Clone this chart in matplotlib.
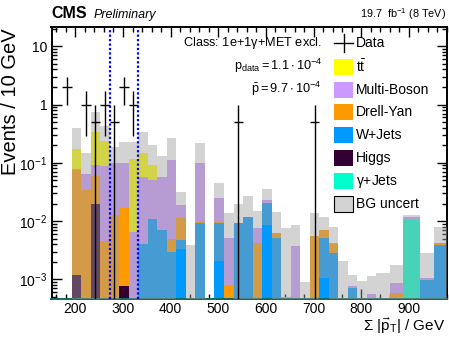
import numpy as np
import matplotlib
matplotlib.use("Agg")
import matplotlib.pyplot as plt
from matplotlib.patches import Rectangle
from matplotlib.lines import Line2D
from matplotlib.ticker import LogLocator, MultipleLocator, FuncFormatter, NullFormatter

plt.rcParams['font.family'] = ['Liberation Sans', 'DejaVu Sans']
plt.rcParams['mathtext.fontset'] = 'custom'
plt.rcParams['mathtext.rm'] = 'Liberation Sans'
plt.rcParams['mathtext.it'] = 'Liberation Sans:italic'
plt.rcParams['mathtext.bf'] = 'Liberation Sans:bold'

# ---------------- data ----------------
bin_edges = [172, 192, 212, 232, 252, 272, 292, 312, 332, 352, 372, 392, 412,
             432, 452, 472, 492, 512, 532, 552, 572, 592, 612, 632, 652, 672,
             692, 712, 732, 752, 772, 792, 812, 832, 860, 888, 924, 952, 990]

gjets = [0, 0, 0, 0, 0, 0, 0, 0, 0, 0, 0, 0, 0, 0, 0, 0, 0, 0, 0, 0, 0, 0, 0,
         0, 0, 0, 0, 0, 0, 0, 0, 0, 0, 0, 0, 0.0104, 0, 0]
higgs = [0, 0.0012, 0, 0.0195, 0, 0, 0.00076, 0, 0, 0, 0, 0, 0, 0, 0, 0, 0, 0,
         0, 0, 0, 0, 0, 0, 0, 0, 0, 0, 0, 0, 0, 0, 0, 0, 0, 0, 0, 0]
wjets = [0, 0, 0, 0, 0, 0, 0, 0, 0.004, 0.011, 0.007, 0.003, 0.0047, 0.0003,
         0.0092, 0, 0.0092, 0, 0.0092, 0.0116, 0, 0.0203, 0.0052, 0, 0, 0, 0,
         0.0052, 0.0028, 0, 0.0007, 0, 0, 0, 0, 0, 0.00098, 0.0039]
drellyan = [0, 0.074, 0.034, 0.04, 0.0045, 0.0126, 0.0158, 0, 0, 0, 0, 0.002,
            0.0065, 0, 0.0006, 0, 0.0006, 0.0008, 0, 0, 0.0042, 0, 0.001, 0, 0,
            0, 0.0056, 0.0019, 0.0012, 0, 0, 0, 0, 0, 0.00058, 0, 0, 0.0003]
multiboson = [0, 0.003, 0.030, 0.032, 0.085, 0.087, 0.083, 0.0066, 0.054, 0.04,
              0.05, 0.105, 0.0076, 0, 0.088, 0, 0.0147, 0.0043, 0, 0, 0.0033,
              0.0027, 0, 0.0005, 0.0037, 0.0002, 0, 0, 0.0002, 0, 0.00007, 0,
              0.00056, 0, 0.0003, 0.0015, 0.00007, 0]
ttbar = [0, 0.092, 0, 0.24, 0.15, 0, 0, 0.11, 0.09, 0.04, 0, 0, 0, 0, 0, 0,
         0, 0, 0, 0, 0, 0, 0, 0, 0, 0, 0, 0, 0, 0, 0, 0, 0, 0, 0, 0, 0, 0]
unc_low = [0, 0, 0, 0, 0, 0, 0.017, 0, 0, 0, 0, 0, 0.0033, 0, 0, 0, 0.0021,
           0.0008, 0, 0, 0, 0.0086, 0, 0, 0, 0, 0, 0.00105, 0, 0, 0, 0, 0, 0,
           0, 0, 0, 0]
unc_high = [0, 0.39, 0.15, 0.75, 0.42, 0.19, 0.23, 0.23, 0.34, 0.2, 0.13, 0.27,
            0.032, 0.0039, 0.216, 0, 0.0457, 0.0137, 0.0197, 0.027, 0.0151,
            0.035, 0.0145, 0.0076, 0.0086, 0.0009, 0.0137, 0.0119, 0.0079,
            0.0021, 0.0012, 0.00095, 0.00115, 0.0013, 0.0018, 0.0125, 0.0028,
            0.008]

data_x = [182, 222, 242, 262, 282, 302, 322, 542, 702]
data_y = [2, 1, 0.5, 1, 0.5, 2, 1, 0.5, 0.5]
data_err = [1.0, 0.71, 0.5, 0.71, 0.5, 1.0, 0.71, 0.5, 0.5]
data_halfwidth = [10, 10, 10, 10, 10, 10, 10, 10, 10]
roi_lines = [272, 332]

components = [
    ("ttbar", ttbar, "#ffff00", r"t$\mathregular{\bar{t}}$"),
    ("multiboson", multiboson, "#cc99ff", "Multi-Boson"),
    ("drellyan", drellyan, "#ff9900", "Drell-Yan"),
    ("wjets", wjets, "#0099ff", "W+Jets"),
    ("higgs", higgs, "#330033", "Higgs"),
    ("gjets", gjets, "#00ffcc", r"$\mathregular{\gamma}$+Jets"),
]
band_color = (0.62, 0.62, 0.62, 0.45)

# ---------------- figure ----------------
W, H = 449, 338
fig = plt.figure(figsize=(W / 100, H / 100), dpi=100)
ax = fig.add_axes([51.5 / W, (H - 299.3) / H, 395.5 / W, 272.8 / H])
ax.set_yscale('log')
ax.set_xlim(150, 980)
ax.set_ylim(4.56e-4, 21.8)

edges = np.array(bin_edges, dtype=float)
cum = np.zeros(len(edges) - 1)
for name, vals, color, label in components[::-1]:
    top = cum + np.array(vals, dtype=float)
    ax.stairs(top, edges, baseline=cum.copy(), fill=True, facecolor=color,
              edgecolor='none', lw=0, zorder=2)
    cum = top

# uncertainty band
ax.stairs(np.array(unc_high), edges, baseline=np.array(unc_low),
          fill=True, facecolor=band_color, edgecolor='none', lw=0, zorder=3)

# data
yerr = np.array(data_err)
ax.errorbar(data_x, data_y, xerr=data_halfwidth, yerr=[yerr, yerr],
            fmt='none', ecolor='black', elinewidth=1.0, capsize=0, zorder=5)

for xl in roi_lines:
    ax.axvline(xl, color='#0000ff', lw=1.6, ls=(0, (1, 1)), zorder=6)

# axes styling
ax.xaxis.set_major_locator(MultipleLocator(100))
ax.xaxis.set_minor_locator(MultipleLocator(20))
ax.yaxis.set_major_locator(LogLocator(base=10, numticks=10))
ax.yaxis.set_minor_locator(LogLocator(base=10, subs=np.arange(2, 10), numticks=30))
ax.yaxis.set_minor_formatter(NullFormatter())


def yfmt(v, pos):
    e = int(round(np.log10(v)))
    if e == 0:
        return '1'
    if e == 1:
        return '10'
    return r'$\mathregular{10^{%d}}$' % e


ax.yaxis.set_major_formatter(FuncFormatter(yfmt))
ax.tick_params(which='both', direction='in', top=True, right=True,
               labelsize=10, width=1.0, color='black')
ax.tick_params(which='major', length=7)
ax.tick_params(axis='x', which='major', pad=2.0)
ax.tick_params(axis='y', which='major', pad=3.0)
ax.tick_params(which='minor', length=3.5)
for s in ax.spines.values():
    s.set_linewidth(1.4)
ax.spines['bottom'].set_color('#0e6b5c')

# axis titles (ROOT style: aligned to the axis end)
fig.text(10.5 / W, 1 - 28 / H, 'Events / 10 GeV', fontsize=14.5, rotation=90,
         rotation_mode='anchor', ha='right', va='center')
fig.text(445 / W, 1 - 331 / H, r'$\mathregular{\Sigma\ |\vec{p}_{T}|}$ / GeV',
         fontsize=11, ha='right', va='baseline')

# header
fig.text(51.5 / W, 1 - 18 / H, 'CMS', weight='bold', fontsize=11.5, va='baseline')
fig.text(94 / W, 1 - 18 / H, 'Preliminary', style='italic', fontsize=9, va='baseline')
fig.text(446 / W, 1 - 18 / H, r'19.7  fb$^{\mathregular{-1}}$ (8 TeV)', fontsize=7.8,
         ha='right', va='baseline')

# class info
ax.text(0.684, 0.9285, r'Class: 1e+1$\mathregular{\gamma}$+MET excl.', transform=ax.transAxes,
        ha='right', va='baseline', fontsize=9.2)
ax.text(0.684, 0.84, r'$\mathregular{p_{data} = 1.1\cdot10^{-4}}$', transform=ax.transAxes,
        ha='right', va='baseline', fontsize=9.2)
ax.text(0.684, 0.758, r'$\mathregular{\bar{p} = 9.7\cdot10^{-4}}$', transform=ax.transAxes,
        ha='right', va='baseline', fontsize=9.2)


# legend (manual)
def ax_y(py):
    return (299.3 - py) / 272.8


def ax_x(px):
    return (px - 51.5) / 395.5


lx0 = ax_x(334.3)
lw_ = 18.4 / 395.5
lh_ = 16 / 272.8
tx = ax_x(355.5)
ax.add_line(Line2D([ax_x(334.3), ax_x(352.7)], [ax_y(42.7)] * 2, transform=ax.transAxes,
                   color='black', lw=1.0, zorder=7))
ax.add_line(Line2D([ax_x(343.5)] * 2, [ax_y(34), ax_y(51.5)], transform=ax.transAxes,
                   color='black', lw=1.0, zorder=7))
ax.text(tx, ax_y(42.7), 'Data', transform=ax.transAxes, va='center', fontsize=10, zorder=7)
rows = [66.7 + 22.9 * i for i in range(7)]
for (name, vals, color, label), ry in zip(components, rows):
    ax.add_patch(Rectangle((lx0, ax_y(ry) - lh_ / 2), lw_, lh_, transform=ax.transAxes,
                           facecolor=color, edgecolor='none', zorder=7))
    ax.text(tx, ax_y(ry), label, transform=ax.transAxes, va='center', fontsize=10, zorder=7)
ry = rows[6]
ax.add_patch(Rectangle((lx0, ax_y(ry) - lh_ / 2), lw_, lh_, transform=ax.transAxes,
                       facecolor='white', edgecolor='none', zorder=7))
ax.add_patch(Rectangle((lx0, ax_y(ry) - lh_ / 2), lw_, lh_, transform=ax.transAxes,
                       facecolor=band_color, edgecolor='black', lw=0.8, zorder=7.5))
ax.text(tx, ax_y(ry), 'BG uncert', transform=ax.transAxes, va='center', fontsize=10, zorder=7)

fig.savefig('out.png', dpi=100)
